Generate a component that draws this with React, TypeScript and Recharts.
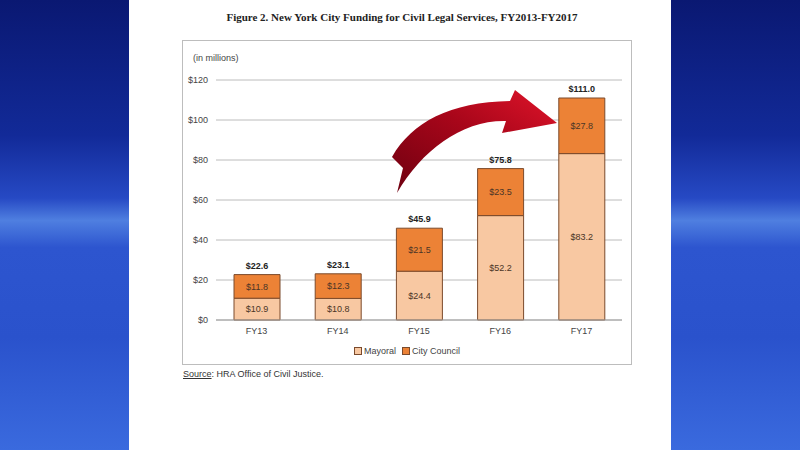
import React from 'react';
import { BarChart, Bar, XAxis, YAxis, CartesianGrid, LabelList, Legend } from 'recharts';

const years = ['FY13', 'FY14', 'FY15', 'FY16', 'FY17'];
const mayoral = [10.9, 10.8, 24.4, 52.2, 83.2];
const cityCouncil = [11.8, 12.3, 21.5, 23.5, 27.8];
const totals = [22.6, 23.1, 45.9, 75.8, 111.0];
const yTicks = [0, 20, 40, 60, 80, 100, 120];

const MAYORAL_COLOR = '#f8c8a2';
const COUNCIL_COLOR = '#ec8236';
const EDGE = '#7b4a2c';
const FONT = '"Liberation Sans", Arial, sans-serif';

const data = years.map((year, i) => ({
  year,
  mayoral: mayoral[i],
  council: cityCouncil[i],
  total: totals[i],
}));

const money = (v: number) => `$${Number(v).toFixed(1)}`;

const LegendContent = () => (
  <div style={{ display: 'flex', justifyContent: 'center', gap: 6, fontFamily: FONT, fontSize: 9, color: '#444' }}>
    {[
      { name: 'Mayoral', color: MAYORAL_COLOR },
      { name: 'City Council', color: COUNCIL_COLOR },
    ].map((item) => (
      <span key={item.name} style={{ display: 'flex', alignItems: 'center' }}>
        <span style={{ width: 6, height: 6, background: item.color, border: `1px solid ${EDGE}`, marginRight: 2 }} />
        {item.name}
      </span>
    ))}
  </div>
);

export default function App() {
  return (
    <div
      style={{
        position: 'absolute',
        left: 0,
        top: 0,
        width: 800,
        height: 450,
        overflow: 'hidden',
        background:
          'linear-gradient(180deg, #0a1872 0%, #122a98 30%, #2649c4 44%, #4f7fe0 49%, #2d55cf 55%, #2a52cc 75%, #3a6ade 100%)',
      }}
    >
      {/* white page */}
      <div style={{ position: 'absolute', left: 129, top: 0, width: 542, height: 450, background: '#fff' }} />

      <div
        style={{
          position: 'absolute',
          left: 131,
          top: 11,
          width: 542,
          textAlign: 'center',
          fontFamily: '"Liberation Serif", "Times New Roman", serif',
          fontWeight: 'bold',
          fontSize: 11,
          color: '#222',
        }}
      >
        Figure 2. New York City Funding for Civil Legal Services, FY2013-FY2017
      </div>

      <div
        style={{
          position: 'absolute',
          left: 182,
          top: 40,
          width: 450,
          height: 325,
          border: '1px solid #bdbdbd',
          boxSizing: 'border-box',
        }}
      >
        <div style={{ position: 'absolute', left: 10, top: 12, fontFamily: FONT, fontSize: 9, color: '#444' }}>
          (in millions)
        </div>
        <BarChart
          width={448}
          height={323}
          data={data}
          margin={{ top: 39, right: 9, left: 3, bottom: 0 }}
          barSize={46}
        >
          <CartesianGrid vertical={false} stroke="#bcbcbc" />
          <XAxis
            dataKey="year"
            axisLine={{ stroke: '#a0a0a0' }}
            tickLine={false}
            height={34}
            tick={{ fontFamily: FONT, fontSize: 9, fill: '#444' }}
          />
          <YAxis
            width={30}
            domain={[0, 120]}
            ticks={yTicks}
            axisLine={false}
            tickLine={false}
            tickFormatter={(v) => `$${v}`}
            tick={{ fontFamily: FONT, fontSize: 9, fill: '#444' }}
          />
          <Legend
            content={<LegendContent />}
            wrapperStyle={{ left: 0, width: 448, top: 305 }}
          />
          <Bar dataKey="mayoral" name="Mayoral" stackId="a" fill={MAYORAL_COLOR} stroke={EDGE} strokeWidth={1} isAnimationActive={false}>
            <LabelList dataKey="mayoral" position="center" formatter={money} style={{ fontFamily: FONT, fontSize: 9, fill: '#4a3526' }} />
          </Bar>
          <Bar dataKey="council" name="City Council" stackId="a" fill={COUNCIL_COLOR} stroke={EDGE} strokeWidth={1} isAnimationActive={false}>
            <LabelList dataKey="council" position="center" formatter={money} style={{ fontFamily: FONT, fontSize: 9, fill: '#4a3526' }} />
            <LabelList dataKey="total" position="top" offset={6} formatter={money} style={{ fontFamily: FONT, fontSize: 9, fontWeight: 'bold', fill: '#222' }} />
          </Bar>
        </BarChart>
      </div>

      <div style={{ position: 'absolute', left: 183, top: 369, fontFamily: FONT, fontSize: 9, color: '#333' }}>
        <span style={{ textDecoration: 'underline' }}>Source</span>: HRA Office of Civil Justice.
      </div>

      {/* red arrow annotation */}
      <svg width={800} height={450} style={{ position: 'absolute', left: 0, top: 0, pointerEvents: 'none' }}>
        <defs>
          <linearGradient id="arrowFill" x1="0" y1="1" x2="1" y2="0">
            <stop offset="0%" stopColor="#6e0010" />
            <stop offset="55%" stopColor="#a8061a" />
            <stop offset="100%" stopColor="#e0142a" />
          </linearGradient>
        </defs>
        <path
          d="M 392 157 C 412 122, 450 102, 510 101 L 515 90 L 557 123 L 502 133 L 506 121 C 462 120, 422 150, 397 193 L 403 168 Z"
          fill="url(#arrowFill)"
        />
      </svg>
    </div>
  );
}
